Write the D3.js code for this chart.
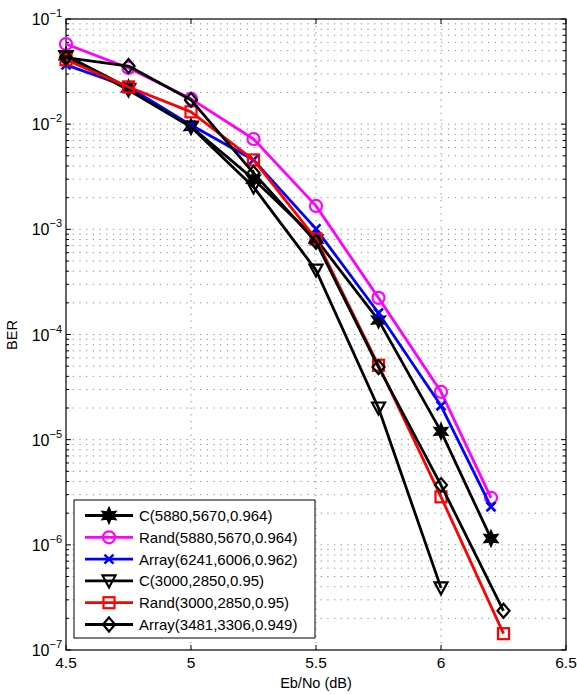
<!DOCTYPE html>
<html><head><meta charset="utf-8">
<script src="https://cdn.jsdelivr.net/npm/d3@7"></script>
<style>body{margin:0;background:#fff}svg{display:block}text{font-family:"Liberation Sans",Arial,sans-serif;fill:#000}</style>
</head><body><svg id="c" width="577" height="694"></svg>
<script>
const snrA = [4.5,4.75,5,5.25,5.5,5.75,6,6.2];
const snrB = [4.5,4.75,5,5.25,5.5,5.75,6];
const snrC = [4.5,4.75,5,5.25,5.5,5.75,6,6.25];
const berC5880 = [0.045,0.0222,0.0095,0.0030,8.1e-4,1.37e-4,1.2e-5,1.15e-6];
const berRand5880 = [0.0578,0.0342,0.0174,0.00723,1.67e-3,2.23e-4,2.85e-5,2.8e-6];
const berArray6241 = [0.0366,0.0226,0.0098,0.00457,1.01e-3,1.6e-4,2.1e-5,2.3e-6];
const berC3000 = [0.044,0.0211,0.0094,0.00253,4.1e-4,2.0e-5,3.9e-7];
const berRand3000 = [0.041,0.0226,0.0131,0.00457,8.1e-4,5.1e-5,2.86e-6,1.43e-7];
const berArray3481 = [0.043,0.0357,0.017,0.00343,7.6e-4,4.9e-5,3.7e-6,2.36e-7];
const seriesNames = ["C(5880,5670,0.964)","Rand(5880,5670,0.964)","Array(6241,6006,0.962)","C(3000,2850,0.95)","Rand(3000,2850,0.95)","Array(3481,3306,0.949)"];
const xTicks = [4.5,5,5.5,6,6.5];
const yExps = [-1,-2,-3,-4,-5,-6,-7];

const series = [
 {name:seriesNames[0], x:snrA, y:berC5880, color:"#000", marker:"hex"},
 {name:seriesNames[1], x:snrA, y:berRand5880, color:"#ff00ff", marker:"circle"},
 {name:seriesNames[2], x:snrA, y:berArray6241, color:"#0000ff", marker:"x"},
 {name:seriesNames[3], x:snrB, y:berC3000, color:"#000", marker:"tri"},
 {name:seriesNames[4], x:snrC, y:berRand3000, color:"#ff0000", marker:"square"},
 {name:seriesNames[5], x:snrC, y:berArray3481, color:"#000", marker:"diamond"}
];

const L=66,R=566,T=19,B=650;
const svg=d3.select("#c");
const x=d3.scaleLinear().domain([4.5,6.5]).range([L,R]);
const y=d3.scaleLog().domain([1e-7,1e-1]).range([B,T]);

// grid
const g=svg.append("g");
const minorY=[];
for(let e=-7;e<-1+0.01;e++){for(let m=1;m<10;m++){const v=m*Math.pow(10,e); if(v>=1e-7*0.999 && v<=0.1*1.001) minorY.push(v);}}
g.selectAll("line.gy").data(minorY.filter(v=>v>1e-7*1.01 && v<0.1*0.99)).join("line")
 .attr("x1",L).attr("x2",R).attr("y1",d=>y(d)).attr("y2",d=>y(d))
 .attr("stroke","#888").attr("stroke-width",1).attr("stroke-dasharray","1.2,5.5");
g.selectAll("line.gx").data(xTicks.slice(1,-1)).join("line")
 .attr("x1",d=>x(d)).attr("x2",d=>x(d)).attr("y1",T).attr("y2",B)
 .attr("stroke","#888").attr("stroke-width",1).attr("stroke-dasharray","1.2,5.5");

// ticks
const tk=svg.append("g").attr("stroke","#000").attr("stroke-width",1);
minorY.forEach(v=>{
  const isMajor=Math.abs(Math.log10(v)-Math.round(Math.log10(v)))<1e-6;
  const len=isMajor?5:3;
  tk.append("line").attr("x1",L).attr("x2",L+len).attr("y1",y(v)).attr("y2",y(v));
  tk.append("line").attr("x1",R).attr("x2",R-len).attr("y1",y(v)).attr("y2",y(v));
});
xTicks.forEach(v=>{
  tk.append("line").attr("x1",x(v)).attr("x2",x(v)).attr("y1",B).attr("y2",B-5);
  tk.append("line").attr("x1",x(v)).attr("x2",x(v)).attr("y1",T).attr("y2",T+5);
});
svg.append("rect").attr("x",L).attr("y",T).attr("width",R-L).attr("height",B-T)
 .attr("fill","none").attr("stroke","#000").attr("stroke-width",1.2);

// tick labels
svg.selectAll("text.xt").data(xTicks).join("text")
 .attr("x",d=>x(d)).attr("y",B+18).attr("text-anchor","middle").attr("font-size",15.5).text(d=>d3.format("")(d));
yExps.forEach(e=>{
  const t=svg.append("text").attr("x",L-4).attr("y",y(Math.pow(10,e))+6).attr("text-anchor","end").attr("font-size",16);
  t.append("tspan").text("10");
  t.append("tspan").attr("font-size",11).attr("dy",-8).text("\u2212"+(-e));
});
svg.append("text").attr("x",316).attr("y",688).attr("text-anchor","middle").attr("font-size",14.5).text("Eb/No (dB)");
svg.append("text").attr("transform","translate(17,335) rotate(-90)").attr("text-anchor","middle").attr("font-size",14.5).text("BER");

// markers
function hexPath(r){const pts=[];for(let i=0;i<12;i++){const a=-Math.PI/2+i*Math.PI/6;const rr=i%2===0?r:r*0.5;pts.push([rr*Math.cos(a),rr*Math.sin(a)]);}return "M"+pts.map(p=>p.join(",")).join("L")+"Z";}
function drawMarker(sel,s,cx,cy){
  const m=sel.append("g").attr("transform",`translate(${cx},${cy})`);
  if(s.marker==="hex"){m.append("path").attr("d",hexPath(8)).attr("fill","#000").attr("stroke","#000").attr("stroke-width",1.5);}
  else if(s.marker==="circle"){m.append("circle").attr("r",6).attr("fill","none").attr("stroke",s.color).attr("stroke-width",2.2);}
  else if(s.marker==="x"){m.append("path").attr("d","M-4.5,-4.5L4.5,4.5M-4.5,4.5L4.5,-4.5").attr("stroke",s.color).attr("stroke-width",2.6);}
  else if(s.marker==="tri"){m.append("path").attr("d","M-6.5,-5.5L6.5,-5.5L0,6.5Z").attr("fill","none").attr("stroke",s.color).attr("stroke-width",2.2);}
  else if(s.marker==="square"){m.append("rect").attr("x",-5.5).attr("y",-5.5).attr("width",11).attr("height",11).attr("fill","none").attr("stroke",s.color).attr("stroke-width",2.2);}
  else if(s.marker==="diamond"){m.append("path").attr("d","M0,-7L6,0L0,7L-6,0Z").attr("fill","none").attr("stroke",s.color).attr("stroke-width",2.2);}
}
const line=d3.line().x(d=>x(d[0])).y(d=>y(d[1]));
const plot=svg.append("g");
series.forEach(s=>{
  const pts=s.x.map((v,i)=>[v,s.y[i]]);
  plot.append("path").attr("d",line(pts)).attr("fill","none").attr("stroke",s.color).attr("stroke-width",2.8).attr("stroke-linejoin","round");
  pts.forEach(p=>drawMarker(plot,s,x(p[0]),y(p[1])));
});

// legend
const lg=svg.append("g");
lg.append("rect").attr("x",74).attr("y",500).attr("width",241).attr("height",138).attr("fill","#fff").attr("stroke","#000").attr("stroke-width",1);
series.forEach((s,i)=>{
  const yy=515.5+i*21.8;
  lg.append("line").attr("x1",85).attr("x2",133).attr("y1",yy).attr("y2",yy).attr("stroke",s.color).attr("stroke-width",2.8);
  drawMarker(lg,s,109,yy);
  lg.append("text").attr("x",139).attr("y",yy+5.5).attr("font-size",15).text(s.name);
});
</script></body></html>
